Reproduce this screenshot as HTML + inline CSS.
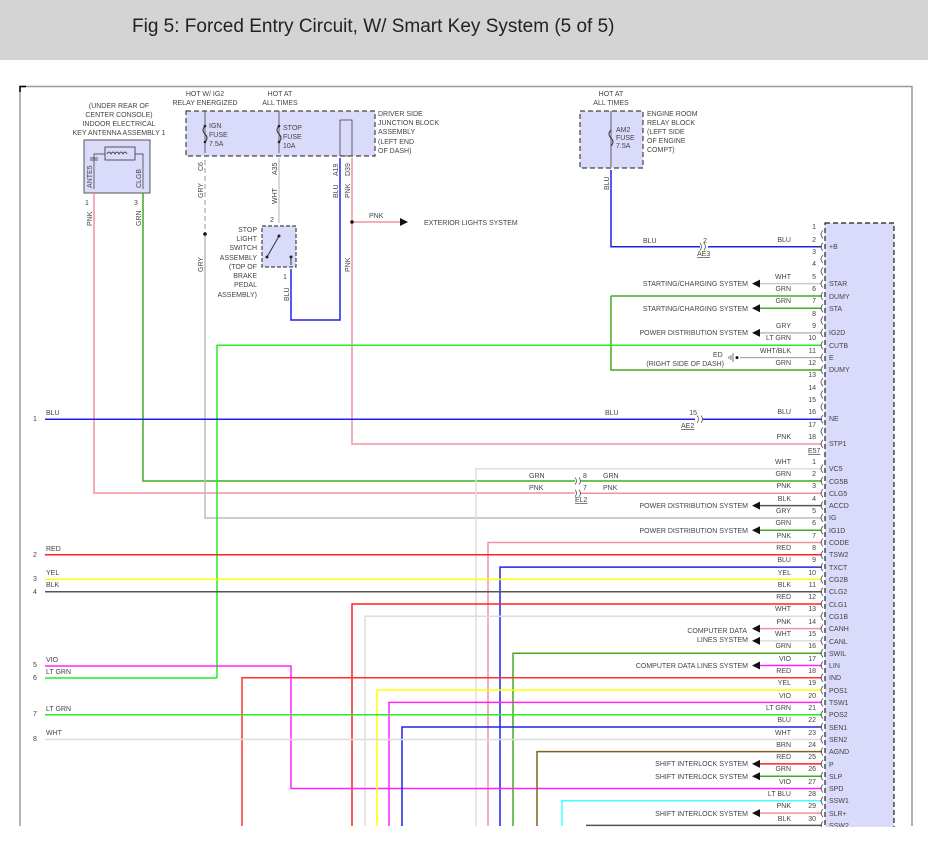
<!DOCTYPE html>
<html><head><meta charset="utf-8"><style>
html,body{margin:0;padding:0;background:#fff;width:928px;height:844px;overflow:hidden}
svg text{font-family:"Liberation Sans",sans-serif;font-size:7px;fill:#444}
</style></head><body>
<svg width="928" height="844" viewBox="0 0 928 844" xmlns="http://www.w3.org/2000/svg">
<rect x="0" y="0" width="928" height="60" fill="#d4d4d4"/>
<text x="132" y="32" style="font-size:19px;fill:#222">Fig 5: Forced Entry Circuit, W/ Smart Key System (5 of 5)</text>
<path d="M20 826 V86.5 H912 V826" fill="none" stroke="#999" stroke-width="1.5"/>
<path d="M20 92 V86.5 H26" fill="none" stroke="#000" stroke-width="1.5"/>

<rect x="825" y="223" width="69" height="640" fill="#dadafa" stroke="#222" stroke-width="1.2" stroke-dasharray="5,3"/>

<rect x="84" y="140" width="66" height="53" fill="#dadafa" stroke="#555" stroke-width="1"/>
<rect x="105" y="147" width="30" height="13" fill="none" stroke="#333" stroke-width="0.8"/>
<path d="M107 154 q2 -4 4 0 q2 -4 4 0 q2 -4 4 0 q2 -4 4 0 q2 -4 4 0" fill="none" stroke="#333" stroke-width="0.8"/>
<path d="M94 189 V154 H105 M135 154 H143 V189" fill="none" stroke="#333" stroke-width="0.7"/>
<path d="M90 158 H98 M90 160 H98" stroke="#333" stroke-width="0.7"/>
<text x="119" y="108" text-anchor="middle">(UNDER REAR OF</text>
<text x="119" y="117" text-anchor="middle">CENTER CONSOLE)</text>
<text x="119" y="126" text-anchor="middle">INDOOR ELECTRICAL</text>
<text x="119" y="135" text-anchor="middle">KEY ANTENNA ASSEMBLY 1</text>
<text transform="translate(92,188) rotate(-90)">ANTE5</text>
<text transform="translate(141,188) rotate(-90)">CLGB</text>

<rect x="186" y="111" width="189" height="45" fill="#dadafa" stroke="#444" stroke-width="1.2" stroke-dasharray="5,3"/>
<path d="M205 111 V153 M279 111 V153" stroke="#444" stroke-width="0.8"/>
<path d="M205 126 q-4 4 0 8 q4 4 0 8 M279 126 q-4 4 0 8 q4 4 0 8" fill="none" stroke="#333" stroke-width="1"/>
<g fill="#222"><circle cx="205" cy="126" r="1.3"/><circle cx="205" cy="142" r="1.3"/><circle cx="279" cy="126" r="1.3"/><circle cx="279" cy="142" r="1.3"/><circle cx="611" cy="130" r="1.3"/><circle cx="611" cy="146" r="1.3"/></g>
<rect x="340" y="120" width="12" height="36" fill="none" stroke="#444" stroke-width="0.8"/>
<text x="209" y="128">IGN</text><text x="209" y="137">FUSE</text><text x="209" y="146">7.5A</text>
<text x="283" y="130">STOP</text><text x="283" y="139">FUSE</text><text x="283" y="148">10A</text>
<text x="205" y="96" text-anchor="middle">HOT W/ IG2</text>
<text x="205" y="105" text-anchor="middle">RELAY ENERGIZED</text>
<text x="280" y="96" text-anchor="middle">HOT AT</text>
<text x="280" y="105" text-anchor="middle">ALL TIMES</text>
<text x="378" y="116">DRIVER SIDE</text><text x="378" y="125">JUNCTION BLOCK</text>
<text x="378" y="134">ASSEMBLY</text><text x="378" y="144">(LEFT END</text><text x="378" y="153">OF DASH)</text>

<rect x="580" y="111" width="63" height="57" fill="#dadafa" stroke="#444" stroke-width="1.2" stroke-dasharray="5,3"/>
<path d="M611 111 V167" stroke="#444" stroke-width="0.8"/>
<path d="M611 130 q-4 4 0 8 q4 4 0 8" fill="none" stroke="#333" stroke-width="1"/>
<text x="611" y="96" text-anchor="middle">HOT AT</text><text x="611" y="105" text-anchor="middle">ALL TIMES</text>
<text x="616" y="132">AM2</text><text x="616" y="140">FUSE</text><text x="616" y="148">7.5A</text>
<text x="647" y="116">ENGINE ROOM</text><text x="647" y="125">RELAY BLOCK</text><text x="647" y="134">(LEFT SIDE</text><text x="647" y="143">OF ENGINE</text><text x="647" y="152">COMPT)</text>

<rect x="262" y="226" width="34" height="41" fill="#dadafa" stroke="#444" stroke-width="1.2" stroke-dasharray="4,2"/>
<path d="M279 236 L267 257" stroke="#333" stroke-width="1"/><circle cx="279" cy="236" r="1.5" fill="#222"/><circle cx="267" cy="257" r="1.5" fill="#222"/><circle cx="291" cy="257" r="1.5" fill="#222"/>
<path d="M291 257 V265" stroke="#333"/>
<text x="257" y="232" text-anchor="end">STOP</text><text x="257" y="241" text-anchor="end">LIGHT</text><text x="257" y="250" text-anchor="end">SWITCH</text><text x="257" y="260" text-anchor="end">ASSEMBLY</text><text x="257" y="269" text-anchor="end">(TOP OF</text><text x="257" y="278" text-anchor="end">BRAKE</text><text x="257" y="287" text-anchor="end">PEDAL</text><text x="257" y="297" text-anchor="end">ASSEMBLY)</text>

<g fill="none" stroke-width="1.5">
<path d="M94 193 V493 H575" stroke="#f590a0"/>
<path d="M143 193 V481 H575" stroke="#44aa22"/>
<path d="M205 160 V234" stroke="#bbb" stroke-dasharray="5,3"/>
<path d="M205 234 V518 H822" stroke="#bbb"/>
<path d="M279 158 V223" stroke="#ccc"/>
<path d="M291 269 V320 H340 V158" stroke="#2020ee"/>
<path d="M352 158 V444 H822" stroke="#f590a0"/>
<path d="M352 222 H400" stroke="#f590a0"/>
<path d="M611 170 V246.7 H700 M708 246.7 H822" stroke="#2020ee"/>
<path d="M611 296 V370 H822 M611 296 H822" stroke="#44aa22"/>
<path d="M217 678 V345.3 H822 M45 678 H217" stroke="#22ee22"/>
<path d="M45 419.2 H695 M702 419.2 H822" stroke="#2020ee"/>
<path d="M580 481 H822" stroke="#44aa22"/>
<path d="M580 493.3 H822" stroke="#f590a0"/>
<path d="M476 826 V468.7 H822" stroke="#ddd"/>
<path d="M488 826 V542.5 H822" stroke="#f590a0"/>
<path d="M45 554.8 H822" stroke="#ff2020"/>
<path d="M500 826 V567.1 H822" stroke="#2020ee"/>
<path d="M45 579.4 H822" stroke="#ffff00"/>
<path d="M45 591.7 H822" stroke="#555"/>
<path d="M352 826 V604 H822" stroke="#ff2020"/>
<path d="M365 826 V616.3 H822" stroke="#ddd"/>
<path d="M513 826 V653.2 H822" stroke="#44aa22"/>
<path d="M45 666 H291 V788.5 H822" stroke="#ff22ff"/>
<path d="M242 826 V677.8 H822" stroke="#ff3030"/>
<path d="M377 826 V690.1 H822" stroke="#ffff00"/>
<path d="M389 826 V702.4 H822" stroke="#ff22ff"/>
<path d="M45 714.7 H822" stroke="#22ee22"/>
<path d="M402 826 V727 H822" stroke="#2020ee"/>
<path d="M45 739.5 H822" stroke="#ddd"/>
<path d="M537 826 V751.6 H822" stroke="#806020"/>
<path d="M562 826 V800.8 H822" stroke="#44ffff"/>
<path d="M586 825.4 H822" stroke="#555"/>
<path d="M760 283.6 H822" stroke="#ccc"/>
<path d="M760 308.3 H822" stroke="#44aa22"/>
<path d="M760 332.9 H822" stroke="#bbb"/>
<path d="M740 357.6 H822" stroke="#999" stroke-width="1"/>
<path d="M760 505.6 H822" stroke="#555"/>
<path d="M760 530.2 H822" stroke="#44aa22"/>
<path d="M760 628.6 H822" stroke="#f590a0"/>
<path d="M760 640.9 H822" stroke="#ddd"/>
<path d="M760 665.5 H822" stroke="#ff22ff"/>
<path d="M760 763.9 H822" stroke="#ff2020"/>
<path d="M760 776.2 H822" stroke="#44aa22"/>
<path d="M760 813.1 H822" stroke="#f590a0"/>
</g>
<!-- connector hooks -->
<g fill="none" stroke="#555" stroke-width="0.8">
<path d="M823 230.4 q-4 4 0 8 M823 242.7 q-4 4 0 8 M823 255 q-4 4 0 8 M823 267.3 q-4 4 0 8 M823 279.6 q-4 4 0 8 M823 292 q-4 4 0 8 M823 304.3 q-4 4 0 8 M823 316.6 q-4 4 0 8 M823 328.9 q-4 4 0 8 M823 341.3 q-4 4 0 8 M823 353.6 q-4 4 0 8 M823 365.9 q-4 4 0 8 M823 378.2 q-4 4 0 8 M823 390.5 q-4 4 0 8 M823 402.9 q-4 4 0 8 M823 415.2 q-4 4 0 8 M823 427.5 q-4 4 0 8 M823 439.8 q-4 4 0 8"/>
<path d="M823 464.7 q-4 4 0 8 M823 477 q-4 4 0 8 M823 489.3 q-4 4 0 8 M823 501.6 q-4 4 0 8 M823 513.9 q-4 4 0 8 M823 526.2 q-4 4 0 8 M823 538.5 q-4 4 0 8 M823 550.8 q-4 4 0 8 M823 563.1 q-4 4 0 8 M823 575.4 q-4 4 0 8 M823 587.7 q-4 4 0 8 M823 600 q-4 4 0 8 M823 612.3 q-4 4 0 8 M823 624.6 q-4 4 0 8 M823 636.9 q-4 4 0 8 M823 649.2 q-4 4 0 8 M823 661.5 q-4 4 0 8 M823 673.8 q-4 4 0 8 M823 686.1 q-4 4 0 8 M823 698.4 q-4 4 0 8 M823 710.7 q-4 4 0 8 M823 723 q-4 4 0 8 M823 735.3 q-4 4 0 8 M823 747.6 q-4 4 0 8 M823 759.9 q-4 4 0 8 M823 772.2 q-4 4 0 8 M823 784.5 q-4 4 0 8 M823 796.8 q-4 4 0 8 M823 809.1 q-4 4 0 8 M823 821.4 q-4 4 0 8"/>
</g>
<g fill="#111">
<path d="M408 222 l-8 -4 v8z"/>
<path d="M752 283.6 l8 -4 v8z"/><path d="M752 308.3 l8 -4 v8z"/><path d="M752 332.9 l8 -4 v8z"/>
<path d="M752 505.6 l8 -4 v8z"/><path d="M752 530.2 l8 -4 v8z"/><path d="M752 628.6 l8 -4 v8z"/><path d="M752 640.9 l8 -4 v8z"/><path d="M752 665.5 l8 -4 v8z"/><path d="M752 763.9 l8 -4 v8z"/><path d="M752 776.2 l8 -4 v8z"/><path d="M752 813.1 l8 -4 v8z"/>
<circle cx="205" cy="234" r="1.8"/><circle cx="352" cy="222" r="1.8"/><circle cx="737" cy="357.6" r="1.5"/>
</g>
<path d="M733 353 v9 M731 355 v5 M729 356 v3" stroke="#555" stroke-width="0.8"/>
<g fill="none" stroke="#555" stroke-width="0.8">
<path d="M700 243 q3 3.7 0 7.4 M704 243 q3 3.7 0 7.4"/>
<path d="M697 415.5 q3 3.7 0 7.4 M701 415.5 q3 3.7 0 7.4"/>
<path d="M575 477.5 q3 3.5 0 7 M579 477.5 q3 3.5 0 7 M575 489.8 q3 3.5 0 7 M579 489.8 q3 3.5 0 7"/>
</g>
<text x="424" y="225">EXTERIOR LIGHTS SYSTEM</text>
<text x="369" y="218">PNK</text>
<text x="707" y="243" text-anchor="end">2</text><text x="697" y="256" style="text-decoration:underline">AE3</text>
<text x="643" y="243">BLU</text>
<text x="697" y="415" text-anchor="end">15</text><text x="681" y="428" style="text-decoration:underline">AE2</text>
<text x="605" y="415">BLU</text>
<text x="583" y="478">8</text><text x="583" y="490">7</text><text x="575" y="502" style="text-decoration:underline">EL2</text>
<text x="603" y="478">GRN</text><text x="603" y="490">PNK</text>
<text x="529" y="478">GRN</text><text x="529" y="490">PNK</text>
<text x="808" y="453" style="text-decoration:underline">E57</text>
<text x="713" y="357">ED</text><text x="724" y="366" text-anchor="end">(RIGHT SIDE OF DASH)</text>
<g>
<text transform="translate(92,226) rotate(-90)">PNK</text><text x="85" y="205">1</text>
<text transform="translate(141,226) rotate(-90)">GRN</text><text x="134" y="205">3</text>
<text transform="translate(203,198) rotate(-90)">GRY</text><text transform="translate(203,171) rotate(-90)">C6</text>
<text transform="translate(203,272) rotate(-90)">GRY</text>
<text transform="translate(277,204) rotate(-90)">WHT</text><text transform="translate(277,175) rotate(-90)">A35</text><text x="270" y="222">2</text>
<text transform="translate(289,301) rotate(-90)">BLU</text><text x="283" y="279">1</text>
<text transform="translate(338,198) rotate(-90)">BLU</text><text transform="translate(338,176) rotate(-90)">A19</text>
<text transform="translate(350,198) rotate(-90)">PNK</text><text transform="translate(350,176) rotate(-90)">D39</text>
<text transform="translate(350,272) rotate(-90)">PNK</text>
<text transform="translate(609,190) rotate(-90)">BLU</text>
</g>
<g>
<text x="33" y="421">1</text><text x="46" y="415">BLU</text>
<text x="33" y="557">2</text><text x="46" y="551">RED</text>
<text x="33" y="581">3</text><text x="46" y="575">YEL</text>
<text x="33" y="594">4</text><text x="46" y="587">BLK</text>
<text x="33" y="667">5</text><text x="46" y="662">VIO</text>
<text x="33" y="680">6</text><text x="46" y="674">LT GRN</text>
<text x="33" y="716">7</text><text x="46" y="711">LT GRN</text>
<text x="33" y="741">8</text><text x="46" y="735">WHT</text>
</g>
<g text-anchor="end">
<text x="748" y="286">STARTING/CHARGING SYSTEM</text>
<text x="748" y="311">STARTING/CHARGING SYSTEM</text>
<text x="748" y="335">POWER DISTRIBUTION SYSTEM</text>
<text x="748" y="508">POWER DISTRIBUTION SYSTEM</text>
<text x="748" y="533">POWER DISTRIBUTION SYSTEM</text>
<text x="747" y="633">COMPUTER DATA</text>
<text x="748" y="642">LINES SYSTEM</text>
<text x="748" y="668">COMPUTER DATA LINES SYSTEM</text>
<text x="748" y="766">SHIFT INTERLOCK SYSTEM</text>
<text x="748" y="779">SHIFT INTERLOCK SYSTEM</text>
<text x="748" y="816">SHIFT INTERLOCK SYSTEM</text>
</g>
<g text-anchor="end">
<text x="816" y="229">1</text><text x="816" y="242">2</text><text x="816" y="254">3</text><text x="816" y="266">4</text><text x="816" y="279">5</text><text x="816" y="291">6</text><text x="816" y="303">7</text><text x="816" y="316">8</text><text x="816" y="328">9</text><text x="816" y="340">10</text><text x="816" y="353">11</text><text x="816" y="365">12</text><text x="816" y="377">13</text><text x="816" y="390">14</text><text x="816" y="402">15</text><text x="816" y="414">16</text><text x="816" y="427">17</text><text x="816" y="439">18</text>
<text x="791" y="242">BLU</text><text x="791" y="279">WHT</text><text x="791" y="291">GRN</text><text x="791" y="303">GRN</text><text x="791" y="328">GRY</text><text x="791" y="340">LT GRN</text><text x="791" y="353">WHT/BLK</text><text x="791" y="365">GRN</text><text x="791" y="414">BLU</text><text x="791" y="439">PNK</text>
</g>
<g>
<text x="829" y="249">+B</text><text x="829" y="286">STAR</text><text x="829" y="299">DUMY</text><text x="829" y="311">STA</text><text x="829" y="335">IG2D</text><text x="829" y="348">CUTB</text><text x="829" y="360">E</text><text x="829" y="372">DUMY</text><text x="829" y="421">NE</text><text x="829" y="446">STP1</text>
</g>
<g text-anchor="end">
<text x="816" y="464">1</text><text x="816" y="476">2</text><text x="816" y="488">3</text><text x="816" y="501">4</text><text x="816" y="513">5</text><text x="816" y="525">6</text><text x="816" y="538">7</text><text x="816" y="550">8</text><text x="816" y="562">9</text><text x="816" y="575">10</text><text x="816" y="587">11</text><text x="816" y="599">12</text><text x="816" y="611">13</text><text x="816" y="624">14</text><text x="816" y="636">15</text><text x="816" y="648">16</text><text x="816" y="661">17</text><text x="816" y="673">18</text><text x="816" y="685">19</text><text x="816" y="698">20</text><text x="816" y="710">21</text><text x="816" y="722">22</text><text x="816" y="735">23</text><text x="816" y="747">24</text><text x="816" y="759">25</text><text x="816" y="771">26</text><text x="816" y="784">27</text><text x="816" y="796">28</text><text x="816" y="808">29</text><text x="816" y="821">30</text>
<text x="791" y="464">WHT</text><text x="791" y="476">GRN</text><text x="791" y="488">PNK</text><text x="791" y="501">BLK</text><text x="791" y="513">GRY</text><text x="791" y="525">GRN</text><text x="791" y="538">PNK</text><text x="791" y="550">RED</text><text x="791" y="562">BLU</text><text x="791" y="575">YEL</text><text x="791" y="587">BLK</text><text x="791" y="599">RED</text><text x="791" y="611">WHT</text><text x="791" y="624">PNK</text><text x="791" y="636">WHT</text><text x="791" y="648">GRN</text><text x="791" y="661">VIO</text><text x="791" y="673">RED</text><text x="791" y="685">YEL</text><text x="791" y="698">VIO</text><text x="791" y="710">LT GRN</text><text x="791" y="722">BLU</text><text x="791" y="735">WHT</text><text x="791" y="747">BRN</text><text x="791" y="759">RED</text><text x="791" y="771">GRN</text><text x="791" y="784">VIO</text><text x="791" y="796">LT BLU</text><text x="791" y="808">PNK</text><text x="791" y="821">BLK</text>
</g>
<g>
<text x="829" y="471">VC5</text><text x="829" y="484">CG5B</text><text x="829" y="496">CLG5</text><text x="829" y="508">ACCD</text><text x="829" y="520">IG</text><text x="829" y="533">IG1D</text><text x="829" y="545">CODE</text><text x="829" y="557">TSW2</text><text x="829" y="570">TXCT</text><text x="829" y="582">CG2B</text><text x="829" y="594">CLG2</text><text x="829" y="607">CLG1</text><text x="829" y="619">CG1B</text><text x="829" y="631">CANH</text><text x="829" y="644">CANL</text><text x="829" y="656">SWIL</text><text x="829" y="668">LIN</text><text x="829" y="680">IND</text><text x="829" y="693">POS1</text><text x="829" y="705">TSW1</text><text x="829" y="717">POS2</text><text x="829" y="730">SEN1</text><text x="829" y="742">SEN2</text><text x="829" y="754">AGND</text><text x="829" y="767">P</text><text x="829" y="779">SLP</text><text x="829" y="791">SPD</text><text x="829" y="803">SSW1</text><text x="829" y="816">SLR+</text><text x="829" y="828">SSW2</text>
</g>
<rect x="0" y="827" width="928" height="17" fill="#fff"/>
</svg>
</body></html>
